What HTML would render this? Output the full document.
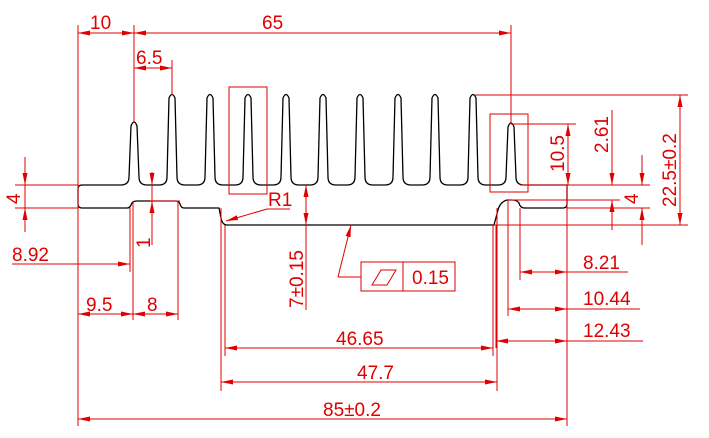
<!DOCTYPE html>
<html><head><meta charset="utf-8"><style>
html,body{margin:0;padding:0;background:#fff;}
svg{display:block}
text{font-family:"Liberation Sans",sans-serif;fill:#e00000;font-size:19px;}
</style></head><body>
<svg width="709" height="438" viewBox="0 0 709 438" xmlns="http://www.w3.org/2000/svg">
<defs>
<marker id="a" viewBox="0 0 12 6" refX="12" refY="3" markerWidth="12" markerHeight="6" markerUnits="userSpaceOnUse" orient="auto-start-reverse">
<path d="M0,0.5 L12,3 L0,5.5 Z" fill="#e00000"/></marker>
</defs>
<!-- profile -->
<path fill="none" stroke="#000" stroke-width="1.3"
d="M82,185 L121,185 Q129,185 129,177 L131,126 Q134,118 137,126 L139,177 Q139,185 147,185
L159,185 Q167,185 167,177 L169,98 Q172,91 175,98 L177,177 Q177,185 185,185
L197,185 Q205,185 205,177 L207,98 Q210,91 213,98 L215,177 Q215,185 223,185
L235,185 Q243,185 243,177 L245,98 Q248,91 251,98 L253,177 Q253,185 261,185
L273,185 Q281,185 281,177 L283,98 Q286,91 289,98 L291,177 Q291,185 299,185
L310,185 Q318,185 318,177 L320,98 Q323,91 326,98 L328,177 Q328,185 336,185
L347,185 Q355,185 355,177 L357,98 Q360,91 363,98 L365,177 Q365,185 373,185
L385,185 Q393,185 393,177 L395,98 Q398,91 401,98 L403,177 Q403,185 411,185
L422,185 Q430,185 430,177 L432,98 Q435,91 438,98 L440,177 Q440,185 448,185
L460,185 Q468,185 468,177 L470,98 Q473,91 476,98 L478,177 Q478,185 486,185
L498,185 Q506,185 506,177 L508,127 Q511,119 514,127 L516,177 Q516,185 524,185"/>
<path fill="none" stroke="#000" stroke-width="1.3"
d="M524,185 L567,185 L567,204 Q567,208 563,208 L525,208 Q520,208 519,203 Q517,200 512,200 L507,200 Q500,202 498,210 L494,225 L226,225 Q222,224 221,218 L219,208 L184,208 Q181,208 180,204 Q179,201 175,201 L137,201 Q132,201 131,205 Q130,208 127,208 L82,208 Q78,208 78,204 L78,189 Q78,185 82,185"/>
<g stroke="#e00000" stroke-width="1" fill="none">
<path d="M78,25V426 M134,25V123 M511,25V124 M172,60V95 M567,185V426
M15,185H78 M15,208H78 M130,208V272 M133,201V320 M178,201V320 M150,201H180
M221,208V391 M497,208V391 M225,225V356 M493,225V356
M520,208V280 M508,200V316 M496,225V348
M511,124H576 M475,95H688 M494,225H688 M520,185H650 M567,208H650 M507,200H620
M306,185V310 M152,172V245"/>
<rect x="229" y="87" width="38" height="107"/>
<rect x="490" y="114" width="38" height="78"/>
<line x1="78" y1="33" x2="134" y2="33" marker-start="url(#a)" marker-end="url(#a)"/>
<line x1="134" y1="33" x2="511" y2="33" marker-start="url(#a)" marker-end="url(#a)"/>
<line x1="134" y1="68" x2="172" y2="68" marker-start="url(#a)" marker-end="url(#a)"/>
<line x1="12" y1="264" x2="106" y2="264"/>
<line x1="106" y1="264" x2="130" y2="264" marker-end="url(#a)"/>
<line x1="78" y1="314" x2="133" y2="314" marker-start="url(#a)" marker-end="url(#a)"/>
<line x1="133" y1="314" x2="178" y2="314" marker-start="url(#a)" marker-end="url(#a)"/>
<line x1="225" y1="348" x2="493" y2="348" marker-start="url(#a)" marker-end="url(#a)"/>
<line x1="221" y1="382" x2="497" y2="382" marker-start="url(#a)" marker-end="url(#a)"/>
<line x1="78" y1="419" x2="567" y2="419" marker-start="url(#a)" marker-end="url(#a)"/>
<line x1="520" y1="272" x2="567" y2="272" marker-start="url(#a)" marker-end="url(#a)"/>
<line x1="567" y1="272" x2="628" y2="272"/>
<line x1="508" y1="309" x2="567" y2="309" marker-start="url(#a)" marker-end="url(#a)"/>
<line x1="567" y1="309" x2="640" y2="309"/>
<line x1="496" y1="341" x2="567" y2="341" marker-start="url(#a)" marker-end="url(#a)"/>
<line x1="567" y1="341" x2="643" y2="341"/>
<line x1="25" y1="157" x2="25" y2="185" marker-end="url(#a)"/>
<line x1="25" y1="232" x2="25" y2="208" marker-end="url(#a)"/>
<line x1="25" y1="185" x2="25" y2="208"/>
<line x1="152" y1="172" x2="152" y2="185" marker-end="url(#a)"/>
<line x1="152" y1="222" x2="152" y2="201" marker-end="url(#a)"/>
<line x1="306" y1="205" x2="306" y2="185" marker-end="url(#a)"/>
<line x1="306" y1="205" x2="306" y2="225" marker-end="url(#a)"/>
<line x1="568" y1="124" x2="568" y2="185" marker-start="url(#a)" marker-end="url(#a)"/>
<line x1="612" y1="110" x2="612" y2="185" marker-end="url(#a)"/>
<line x1="612" y1="230" x2="612" y2="200" marker-end="url(#a)"/>
<line x1="642" y1="155" x2="642" y2="185" marker-end="url(#a)"/>
<line x1="642" y1="245" x2="642" y2="208" marker-end="url(#a)"/>
<line x1="680" y1="95" x2="680" y2="225" marker-start="url(#a)" marker-end="url(#a)"/>
<path d="M290,209 H267"/>
<line x1="267" y1="209" x2="226" y2="221" marker-end="url(#a)"/>
<path d="M361,277 H338"/>
<line x1="338" y1="277" x2="351" y2="225" marker-end="url(#a)"/>
<rect x="361" y="262" width="94" height="29"/>
<line x1="403" y1="262" x2="403" y2="291"/>
<path d="M372,285 L381,270 L396,270 L387,285 Z"/>
</g>
<text x="90" y="29">10</text>
<text x="262" y="29">65</text>
<text x="136" y="64">6.5</text>
<text x="268" y="206">R1</text>
<text x="12" y="261">8.92</text>
<text x="86" y="311">9.5</text>
<text x="147" y="311">8</text>
<text x="336" y="345">46.65</text>
<text x="357" y="379">47.7</text>
<text x="323" y="416">85±0.2</text>
<text x="412" y="284">0.15</text>
<text x="583" y="269">8.21</text>
<text x="583" y="305">10.44</text>
<text x="583" y="337">12.43</text>
<text transform="translate(20,204) rotate(-90)">4</text>
<text transform="translate(150,248) rotate(-90)">1</text>
<text transform="translate(303,308) rotate(-90)">7±0.15</text>
<text transform="translate(564,172) rotate(-90)">10.5</text>
<text transform="translate(608,153) rotate(-90)">2.61</text>
<text transform="translate(638,204) rotate(-90)">4</text>
<text transform="translate(676,207) rotate(-90)">22.5±0.2</text>
</svg>
</body></html>
